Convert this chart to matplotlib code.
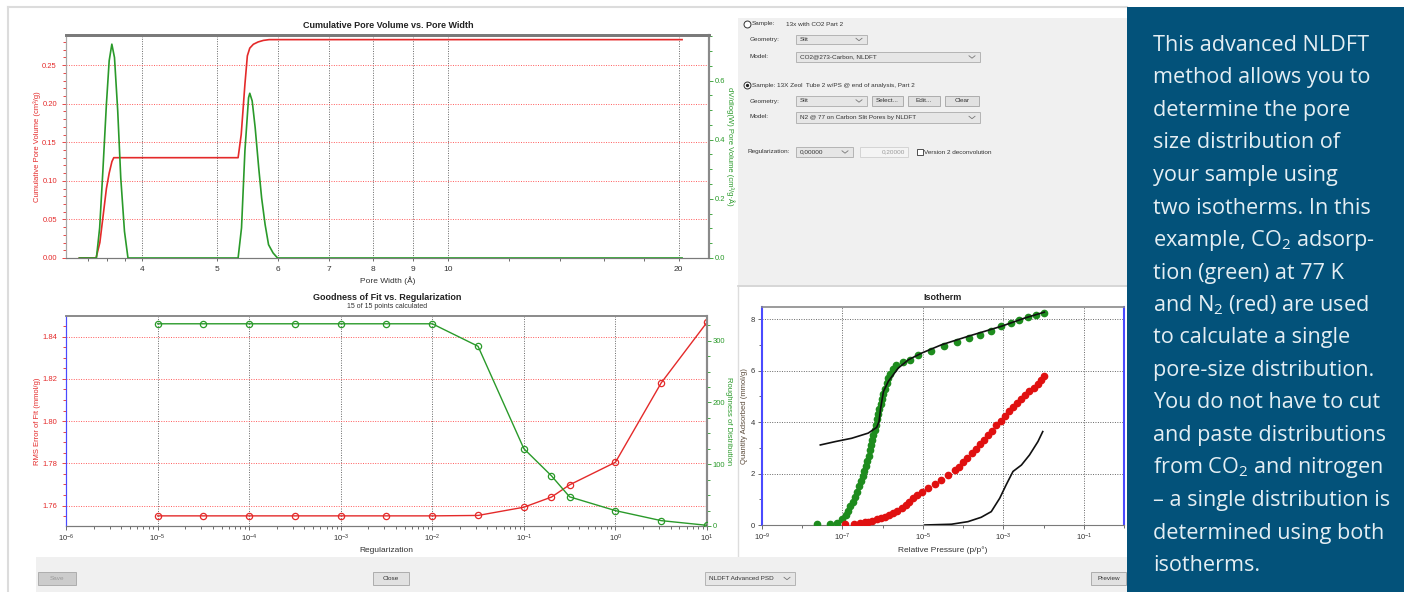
import numpy as np
import matplotlib
matplotlib.use('Agg')
import matplotlib.pyplot as plt
from matplotlib.patches import Rectangle
from matplotlib.lines import Line2D
from matplotlib.ticker import FixedLocator, FixedFormatter, NullFormatter, MultipleLocator, LogFormatterSciNotation

# ---------------- data ----------------
# cumulative pore volume vs pore width
cum_width = [3.31, 3.48, 3.52, 3.56, 3.59, 3.62, 3.65, 3.67, 5.33, 5.38, 5.44, 5.48, 5.52, 5.58, 5.66, 5.75, 5.85, 20.2]
cum_volume = [0.0, 0.0, 0.02, 0.06, 0.09, 0.11, 0.125, 0.13, 0.13, 0.16, 0.225, 0.262, 0.272, 0.277, 0.280, 0.282, 0.283, 0.283]

# dV/dlog(W) distribution
psd_width = [3.31, 3.484, 3.518, 3.552, 3.590, 3.620, 3.649, 3.678, 3.714, 3.748, 3.79, 3.83,
             5.33, 5.385, 5.44, 5.50, 5.52, 5.56, 5.61, 5.67, 5.72, 5.78, 5.84, 5.92, 6.0, 20.2]
psd_value = [0.0, 0.0, 0.102, 0.294, 0.520, 0.667, 0.723, 0.678, 0.497, 0.271, 0.090, 0.0,
             0.0, 0.102, 0.362, 0.542, 0.557, 0.531, 0.441, 0.305, 0.203, 0.113, 0.045, 0.017, 0.0, 0.0]

# goodness of fit vs regularization
reg = [1e-5, 3.16e-5, 1e-4, 3.16e-4, 1e-3, 3.16e-3, 1e-2, 3.16e-2, 0.1, 0.2, 0.316, 1.0, 3.16, 10.0]
rms_error = [1.7551, 1.7551, 1.7551, 1.7551, 1.7551, 1.7551, 1.7551, 1.7553, 1.7592, 1.7640, 1.7698, 1.7805, 1.8181, 1.8468]
roughness = [327.4, 327.4, 327.4, 327.4, 327.4, 327.4, 327.4, 291.0, 125.2, 81.3, 47.2, 24.9, 8.7, 1.1]

# isotherms (log10 of relative pressure, quantity mmol/g)
co2_logp = [-7.64, -7.31, -7.14, -7.00, -6.92, -6.86, -6.80, -6.74, -6.68, -6.63, -6.58, -6.54, -6.50, -6.46,
            -6.42, -6.38, -6.35, -6.32, -6.29, -6.26, -6.23, -6.20, -6.17, -6.14, -6.11, -6.08, -6.05, -6.02,
            -5.98, -5.94, -5.90, -5.86, -5.81, -5.75, -5.66, -5.50, -5.32, -5.12, -4.79, -4.47, -4.14, -3.85,
            -3.57, -3.30, -3.05, -2.80, -2.60, -2.39, -2.18, -1.98]
co2_qty = [0.03, 0.05, 0.09, 0.25, 0.40, 0.55, 0.72, 0.90, 1.10, 1.30, 1.50, 1.70, 1.90, 2.10,
           2.30, 2.50, 2.70, 2.90, 3.10, 3.30, 3.50, 3.70, 3.90, 4.10, 4.30, 4.50, 4.70, 4.90,
           5.10, 5.30, 5.50, 5.70, 5.88, 6.05, 6.22, 6.35, 6.42, 6.61, 6.77, 6.94, 7.11, 7.26,
           7.39, 7.55, 7.72, 7.85, 7.98, 8.08, 8.17, 8.24]

n2_logp = [-6.93, -6.72, -6.56, -6.44, -6.36, -6.26, -6.15, -6.05, -5.94, -5.84, -5.74, -5.64, -5.53, -5.43,
           -5.35, -5.24, -5.14, -5.03, -4.87, -4.70, -4.54, -4.37, -4.21, -4.11, -4.00, -3.90, -3.79, -3.69,
           -3.59, -3.49, -3.38, -3.28, -3.17, -3.07, -2.97, -2.87, -2.76, -2.66, -2.55, -2.45, -2.35, -2.25,
           -2.14, -2.06, -1.98]
n2_qty = [0.03, 0.05, 0.08, 0.11, 0.13, 0.17, 0.22, 0.26, 0.32, 0.39, 0.47, 0.56, 0.67, 0.78,
          0.91, 1.04, 1.17, 1.27, 1.43, 1.58, 1.75, 1.95, 2.14, 2.27, 2.44, 2.59, 2.79, 2.96,
          3.14, 3.31, 3.50, 3.67, 3.87, 4.05, 4.22, 4.41, 4.57, 4.73, 4.90, 5.06, 5.21, 5.34,
          5.49, 5.64, 5.78]

co2_fit_logp = [-7.55, -7.18, -6.77, -6.36, -6.15, -6.09, -6.05, -5.98, -5.86, -5.61, -5.36, -5.03, -4.54, -3.88, -3.05, -2.47, -1.98]
co2_fit_qty = [3.11, 3.24, 3.37, 3.57, 3.79, 4.02, 4.54, 5.19, 5.58, 6.10, 6.42, 6.68, 7.00, 7.33, 7.72, 8.04, 8.27]

n2_fit_logp = [-4.95, -4.29, -3.88, -3.55, -3.30, -3.09, -2.93, -2.76, -2.55, -2.35, -2.14, -2.02]
n2_fit_qty = [0.0, 0.03, 0.13, 0.30, 0.52, 1.04, 1.56, 2.08, 2.33, 2.72, 3.24, 3.63]

blurb = ["This advanced NLDFT", "method allows you to", "determine the pore", "size distribution of",
         "your sample using", "two isotherms. In this", r"example, CO$_\mathregular{2}$ adsorp-",
         "tion (green) at 77 K", r"and N$_\mathregular{2}$ (red) are used", "to calculate a single",
         "pore-size distribution.", "You do not have to cut", "and paste distributions",
         r"from CO$_\mathregular{2}$ and nitrogen", "\u2013 a single distribution is",
         "determined using both", "isotherms."]

RED = '#e42a2a'
GREEN = '#2a9a2a'
GRID_RED = '#ff5a5a'
GRID_DARK = '#666666'
BLUE = '#4a4aff'

plt.rcParams['font.family'] = ['Liberation Sans', 'DejaVu Sans']

W, H = 1404, 592
fig = plt.figure(figsize=(W / 100, H / 100), dpi=100)
fig.patch.set_facecolor('white')


def fx(x):
    return x / W


def fy(y):
    return 1 - y / H


def axes_px(x0, y0, x1, y1):
    return fig.add_axes([fx(x0), fy(y1), (x1 - x0) / W, (y1 - y0) / H])


def rect(x0, y0, x1, y1, fc, ec='none', lw=0.8, z=-1):
    fig.add_artist(Rectangle((fx(x0), fy(y1)), (x1 - x0) / W, (y1 - y0) / H, transform=fig.transFigure,
                             facecolor=fc, edgecolor=ec, linewidth=lw, zorder=z))


def txt(x, y, s, size=5, color='#333333', ha='left', va='center', **kw):
    fig.text(fx(x), fy(y), s, fontsize=size, color=color, ha=ha, va=va, **kw)


def hline(x0, x1, y, color, lw=1.0, z=0):
    fig.add_artist(Line2D([fx(x0), fx(x1)], [fy(y), fy(y)], color=color, lw=lw, transform=fig.transFigure, zorder=z))


def vline(x, y0, y1, color, lw=1.0, z=0):
    fig.add_artist(Line2D([fx(x), fx(x)], [fy(y0), fy(y1)], color=color, lw=lw, transform=fig.transFigure, zorder=z))


def combo(x0, y0, x1, y1, label, tcolor='#333333'):
    rect(x0, y0, x1, y1, '#e6e6e6', '#b4b4b4', lw=0.7, z=2)
    cy = (y0 + y1) / 2
    txt(x0 + 4, cy, label, size=4.6, color=tcolor, zorder=3)
    fig.add_artist(Line2D([fx(x1 - 11), fx(x1 - 8), fx(x1 - 5)], [fy(cy - 1.2), fy(cy + 1.2), fy(cy - 1.2)],
                          color='#777777', lw=0.6, transform=fig.transFigure, zorder=3))


def button(x0, y0, x1, y1, label, fc='#e1e1e1', tcolor='#333333'):
    rect(x0, y0, x1, y1, fc, '#adadad', lw=0.7, z=2)
    txt((x0 + x1) / 2, (y0 + y1) / 2, label, size=4.6, color=tcolor, ha='center', zorder=3)


def radio(x, y, selected=False):
    fig.add_artist(Line2D([fx(x)], [fy(y)], marker='o', ms=5, mfc='white', mec='#333333', mew=0.7,
                          transform=fig.transFigure, zorder=3))
    if selected:
        fig.add_artist(Line2D([fx(x)], [fy(y)], marker='o', ms=2.4, mfc='#222222', mec='none',
                              transform=fig.transFigure, zorder=4))


# ---------------- background pieces ----------------
hline(8, 1127, 7, '#dcdcdc', lw=1.5, z=-1)
vline(8, 7, 592, '#dcdcdc', lw=1.5, z=-1)
rect(738, 18, 1127, 285, '#f0f0f0')
hline(738, 1127, 285.5, '#cfcfcf', lw=1.2, z=-1)
vline(737.5, 287, 557, '#dddddd', lw=1.0, z=-1)
rect(36, 557, 1127, 592, '#f0f0f0')
rect(1127, 7, 1404, 592, '#03527a', z=5)

# ---------------- cumulative pore volume ----------------
ax1 = axes_px(66, 35, 709, 258)
ax1.set_xscale('log')
ax1.plot(cum_width, cum_volume, color=RED, lw=1.2, zorder=3)
ax1.set_xlim(3.18, 21.9)
ax1.set_ylim(0, 0.289)
ax1.xaxis.set_major_locator(FixedLocator([4, 5, 6, 7, 8, 9, 10, 20]))
ax1.xaxis.set_major_formatter(FixedFormatter(['4', '5', '6', '7', '8', '9', '10', '20']))
ax1.xaxis.set_minor_locator(FixedLocator([3.4, 3.6, 3.8, 12, 14, 16, 18]))
ax1.xaxis.set_minor_formatter(NullFormatter())
ax1.yaxis.set_major_locator(FixedLocator([0.0, 0.05, 0.10, 0.15, 0.20, 0.25]))
ax1.yaxis.set_major_formatter(FixedFormatter(['0.00', '0.05', '0.10', '0.15', '0.20', '0.25']))
ax1.yaxis.set_minor_locator(MultipleLocator(0.01))
ax1.grid(axis='x', which='major', color=GRID_DARK, ls=(0, (1, 1.5)), lw=0.7)
ax1.grid(axis='y', which='major', color=GRID_RED, ls=(0, (1, 1.5)), lw=0.7)
ax1.tick_params(axis='y', which='both', colors=RED, labelsize=5.5, width=0.6)
ax1.tick_params(axis='y', which='major', length=3)
ax1.tick_params(axis='y', which='minor', length=2)
ax1.tick_params(axis='x', which='both', colors='#555555', labelcolor='#333333', labelsize=6, width=0.6, length=2.5)
ax1.set_xlabel('Pore Width (\u00c5)', fontsize=6, color='#333333', labelpad=2)
ax1.set_ylabel('Cumulative Pore Volume (cm\u00b3/g)', fontsize=5.5, color=RED, labelpad=1)

ax1r = ax1.twinx()
ax1r.plot(psd_width, psd_value, color=GREEN, lw=1.2, zorder=3)
ax1r.set_ylim(0, 0.754)
ax1r.yaxis.set_major_locator(FixedLocator([0.0, 0.2, 0.4, 0.6]))
ax1r.yaxis.set_major_formatter(FixedFormatter(['0.0', '0.2', '0.4', '0.6']))
ax1r.yaxis.set_minor_locator(MultipleLocator(0.05))
ax1r.tick_params(axis='y', which='both', colors=GREEN, labelsize=5.5, width=0.6, pad=1)
ax1r.tick_params(axis='y', which='major', length=3)
ax1r.tick_params(axis='y', which='minor', length=2)
ax1r.set_ylabel('dV/dlog(W) Pore Volume (cm\u00b3/g\u00b7\u00c5)', fontsize=5.5, color=GREEN, rotation=270, labelpad=7)
for a in (ax1, ax1r):
    a.spines['top'].set_color('#7a7a7a')
    a.spines['top'].set_linewidth(2.0)
    a.spines['bottom'].set_color('#7a7a7a')
    a.spines['left'].set_color('#a8a8a8')
    a.spines['right'].set_color('#8a8a8a')
    a.spines['right'].set_linewidth(1.5)
txt(388, 25, 'Cumulative Pore Volume vs. Pore Width', size=6.5, color='#222222', ha='center', weight='bold')

# ---------------- goodness of fit ----------------
ax2 = axes_px(66, 316, 707, 526)
ax2.set_xscale('log')
ax2.plot(reg, rms_error, color=RED, lw=1.0, marker='o', ms=4.5, mfc='none', mec=RED, mew=0.9, zorder=3)
ax2.set_xlim(1e-6, 10)
ax2.set_ylim(1.7503, 1.8498)
decades = [1e-6, 1e-5, 1e-4, 1e-3, 1e-2, 1e-1, 1e0, 1e1]
ax2.xaxis.set_major_locator(FixedLocator(decades))
ax2.xaxis.set_major_formatter(LogFormatterSciNotation())
ax2.xaxis.set_minor_locator(FixedLocator([d * k for d in decades[:-1] for k in range(2, 10)]))
ax2.xaxis.set_minor_formatter(NullFormatter())
ax2.yaxis.set_major_locator(FixedLocator([1.76, 1.78, 1.80, 1.82, 1.84]))
ax2.yaxis.set_major_formatter(FixedFormatter(['1.76', '1.78', '1.80', '1.82', '1.84']))
ax2.yaxis.set_minor_locator(MultipleLocator(0.005))
ax2.grid(axis='x', which='major', color=GRID_DARK, ls=(0, (1, 1.5)), lw=0.7)
ax2.grid(axis='y', which='major', color=GRID_RED, ls=(0, (1, 1.5)), lw=0.7)
ax2.tick_params(axis='y', which='both', colors=RED, labelsize=5.5, width=0.6)
ax2.tick_params(axis='y', which='major', length=3)
ax2.tick_params(axis='y', which='minor', length=2)
ax2.tick_params(axis='x', which='both', colors='#555555', labelcolor='#333333', labelsize=5.5, width=0.6)
ax2.tick_params(axis='x', which='major', length=3, pad=2)
ax2.tick_params(axis='x', which='minor', length=1.8)
ax2.set_xlabel('Regularization', fontsize=6, color='#333333', labelpad=2)
ax2.set_ylabel('RMS Error of Fit (mmol/g)', fontsize=5.5, color=RED, labelpad=1)

ax2r = ax2.twinx()
ax2r.plot(reg, roughness, color=GREEN, lw=1.0, marker='o', ms=4.5, mfc='none', mec=GREEN, mew=0.9, zorder=3)
ax2r.set_ylim(0, 340)
ax2r.yaxis.set_major_locator(FixedLocator([0, 100, 200, 300]))
ax2r.yaxis.set_minor_locator(MultipleLocator(25))
ax2r.tick_params(axis='y', which='both', colors=GREEN, labelsize=5.5, width=0.6, pad=1)
ax2r.tick_params(axis='y', which='major', length=3)
ax2r.tick_params(axis='y', which='minor', length=2)
ax2r.set_ylabel('Roughness of Distribution', fontsize=5.5, color=GREEN, rotation=270, labelpad=5)
for a in (ax2, ax2r):
    a.spines['top'].set_color('#8a8a8a')
    a.spines['top'].set_linewidth(1.2)
    a.spines['bottom'].set_color('#7a7a7a')
    a.spines['left'].set_color(BLUE)
    a.spines['right'].set_color('#8a8a8a')
    a.spines['right'].set_linewidth(1.5)
txt(387, 297, 'Goodness of Fit vs. Regularization', size=6.5, color='#222222', ha='center', weight='bold')
txt(387, 306.5, '15 of 15 points calculated', size=5, color='#333333', ha='center')

# ---------------- isotherm ----------------
ax3 = axes_px(762, 307, 1124, 525)
ax3.set_xscale('log')
ax3.plot(np.power(10.0, co2_logp), co2_qty, ls='none', marker='o', ms=4.5, color='#1e8c1e', zorder=3)
ax3.plot(np.power(10.0, n2_logp), n2_qty, ls='none', marker='o', ms=4.5, color='#e01010', zorder=3)
ax3.plot(np.power(10.0, co2_fit_logp), co2_fit_qty, color='#111111', lw=1.2, zorder=4)
ax3.plot(np.power(10.0, n2_fit_logp), n2_fit_qty, color='#111111', lw=1.2, zorder=4)
ax3.set_xlim(1e-9, 1.0)
ax3.set_ylim(0, 8.47)
ax3.xaxis.set_major_locator(FixedLocator([1e-9, 1e-7, 1e-5, 1e-3, 1e-1]))
ax3.xaxis.set_major_formatter(LogFormatterSciNotation())
ax3.xaxis.set_minor_locator(FixedLocator([1e-8, 1e-6, 1e-4, 1e-2, 1e0]))
ax3.xaxis.set_minor_formatter(NullFormatter())
ax3.yaxis.set_major_locator(FixedLocator([0, 2, 4, 6, 8]))
ax3.yaxis.set_minor_locator(FixedLocator([1, 3, 5, 7]))
ax3.grid(axis='both', which='major', color=GRID_DARK, ls=(0, (1, 1.5)), lw=0.7)
ax3.tick_params(axis='both', which='both', colors='#555555', labelcolor='#333333', labelsize=5.5, width=0.6)
ax3.tick_params(axis='both', which='major', length=3)
ax3.tick_params(axis='both', which='minor', length=2)
ax3.tick_params(axis='y', which='major', pad=2)
ax3.tick_params(axis='x', which='major', pad=2)
ax3.set_xlabel('Relative Pressure (p/p\u00b0)', fontsize=6, color='#333333', labelpad=2)
ax3.set_ylabel('Quantity Adsorbed (mmol/g)', fontsize=5.5, color='#5a4a3a', labelpad=2)
ax3.spines['left'].set_color(BLUE)
ax3.spines['left'].set_linewidth(1.5)
ax3.spines['right'].set_color(BLUE)
ax3.spines['right'].set_linewidth(1.5)
ax3.spines['top'].set_color('#8a8a8a')
ax3.spines['top'].set_linewidth(1.2)
ax3.spines['bottom'].set_color('#7a7a7a')
txt(943, 297, 'Isotherm', size=6.5, color='#222222', ha='center', weight='bold')

# ---------------- settings panel ----------------
radio(747, 24)
txt(751.5, 24, 'Sample:', size=4.6)
txt(786, 24, '13x with CO2 Part 2', size=4.6)
txt(750, 39.5, 'Geometry:', size=4.6)
combo(796, 35, 867, 44, 'Slit')
txt(750, 57, 'Model:', size=4.6)
combo(796, 52, 980, 62, 'CO2@273-Carbon, NLDFT')

radio(747, 85, selected=True)
txt(751.5, 85, 'Sample: 13X Zeol  Tube 2 w/PS @ end of analysis, Part 2', size=4.6)
txt(750, 101, 'Geometry:', size=4.6)
combo(796, 96, 867, 106, 'Slit')
button(872, 96, 903, 106, 'Select...')
button(908, 96, 940, 106, 'Edit...')
button(945, 96, 979, 106, 'Clear')
txt(750, 117, 'Model:', size=4.6)
combo(796, 112, 980, 123, 'N2 @ 77 on Carbon Slit Pores by NLDFT')

txt(747, 152, 'Regularization:', size=4.6)
combo(796, 147, 853, 157, '0,00000')
rect(860, 147, 908, 157, '#f4f4f4', '#d4d4d4', lw=0.7, z=2)
txt(905, 152, '0,20000', size=4.6, color='#9a9a9a', ha='right', zorder=3)
fig.add_artist(Line2D([fx(920)], [fy(152)], marker='s', ms=4.2, mfc='white', mec='#333333', mew=0.6,
                      transform=fig.transFigure, zorder=3))
txt(924, 152, 'Version 2 deconvolution', size=4.6)

# ---------------- bottom button bar ----------------
button(38, 572, 76, 585, 'Save', fc='#cccccc', tcolor='#9a9a9a')
button(373, 572, 409, 585, 'Close')
combo(705, 572, 795, 585, 'NLDFT Advanced PSD')
button(1091, 572, 1126, 585, 'Preview')

# ---------------- description box ----------------
plt.rcParams['mathtext.fontset'] = 'custom'
plt.rcParams['mathtext.rm'] = 'Open Sans'
for i, line in enumerate(blurb):
    fig.text(fx(1153), fy(51 + 32.5 * i), line, fontsize=15.6, color='#e4eef3', family='Open Sans',
             ha='left', va='baseline', zorder=6)

fig.savefig('out.png', dpi=100, facecolor='white')
